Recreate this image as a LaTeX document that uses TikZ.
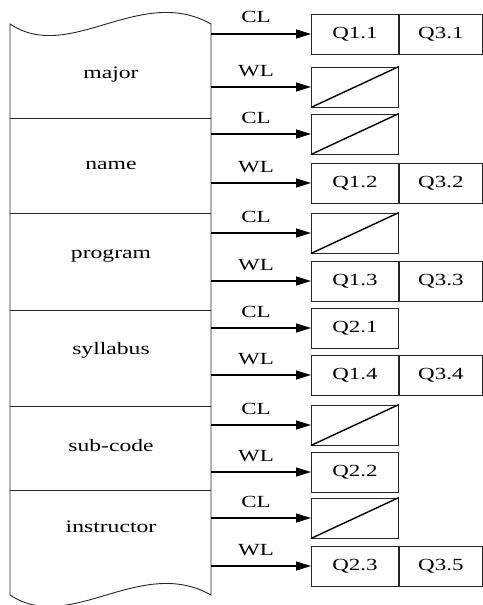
\documentclass[tikz,border=0pt]{standalone}
\usepackage{fontspec}
\setmainfont{Liberation Serif}
\usetikzlibrary{arrows.meta}
\newcommand{\sx}[1]{\scalebox{1.35}[1]{#1}}
\begin{document}
\begin{tikzpicture}[x=1pt,y=-1pt,
  blk/.style={draw=black!85, line width=0.9pt},
  cell/.style={draw=black!85, line width=0.9pt, minimum height=40pt, inner sep=0pt, anchor=west, font=\fontsize{17}{19}\selectfont},
  cellA/.style={cell, minimum width=87pt},
  cellB/.style={cell, minimum width=83pt},
  arr/.style={-{Triangle[length=15pt,width=9pt]}, line width=1.4pt},
  lbl/.style={font=\fontsize{17}{19}\selectfont, inner sep=0pt, anchor=base},
  fld/.style={font=\fontsize{17.5}{19}\selectfont, inner sep=0pt},
  diag/.style={line width=1.4pt}]
\useasboundingbox (0,0) rectangle (482,605);
% record block
\draw[blk] (10,24) -- (10,595) .. controls (70,635) and (140,555) .. (211,595)
  -- (211,24) .. controls (140,-16) and (70,64) .. (10,24) -- cycle;
\foreach \y in {118,213,310,406,490} \draw[blk] (10,\y) -- (211,\y);
\node[fld] (f1) at (111,75) {\sx{major}};
\node[fld] (f2) at (111,165) {\sx{name}};
\node[fld] (f3) at (111,256) {\sx{program}};
\node[fld] (f4) at (111,350) {\sx{syllabus}};
\node[fld] (f5) at (111,446) {\sx{sub-code}};
\node[fld] (f6) at (111,527) {\sx{instructor}};
% rows
\foreach \i/\y/\t/\a in {1/34/CL/Q1.1, 2/87/WL/, 3/134/CL/, 4/183/WL/Q1.2,
  5/233/CL/, 6/281/WL/Q1.3, 7/328/CL/Q2.1, 8/375/WL/Q1.4,
  9/425/CL/, 10/472/WL/Q2.2, 11/518/CL/, 12/566/WL/Q2.3}{
  \coordinate (s\i) at (211,\y);
  \node[cellA] (b\i) at (311,\y) {\if\relax\detokenize{\a}\relax\else\sx{\a}\fi};
  \draw[arr] (s\i) -- (b\i.west);
  \node[lbl] (l\i) at (256,\y-11) {\sx{\t}};
}
\foreach \i in {2,3,5,9,11} \draw[diag] (b\i.south west) -- (b\i.north east);
\foreach \i/\b in {1/Q3.1,4/Q3.2,6/Q3.3,8/Q3.4,12/Q3.5}
  \node[cellB] (c\i) at (b\i.east) {\sx{\b}};
\end{tikzpicture}
\end{document}
